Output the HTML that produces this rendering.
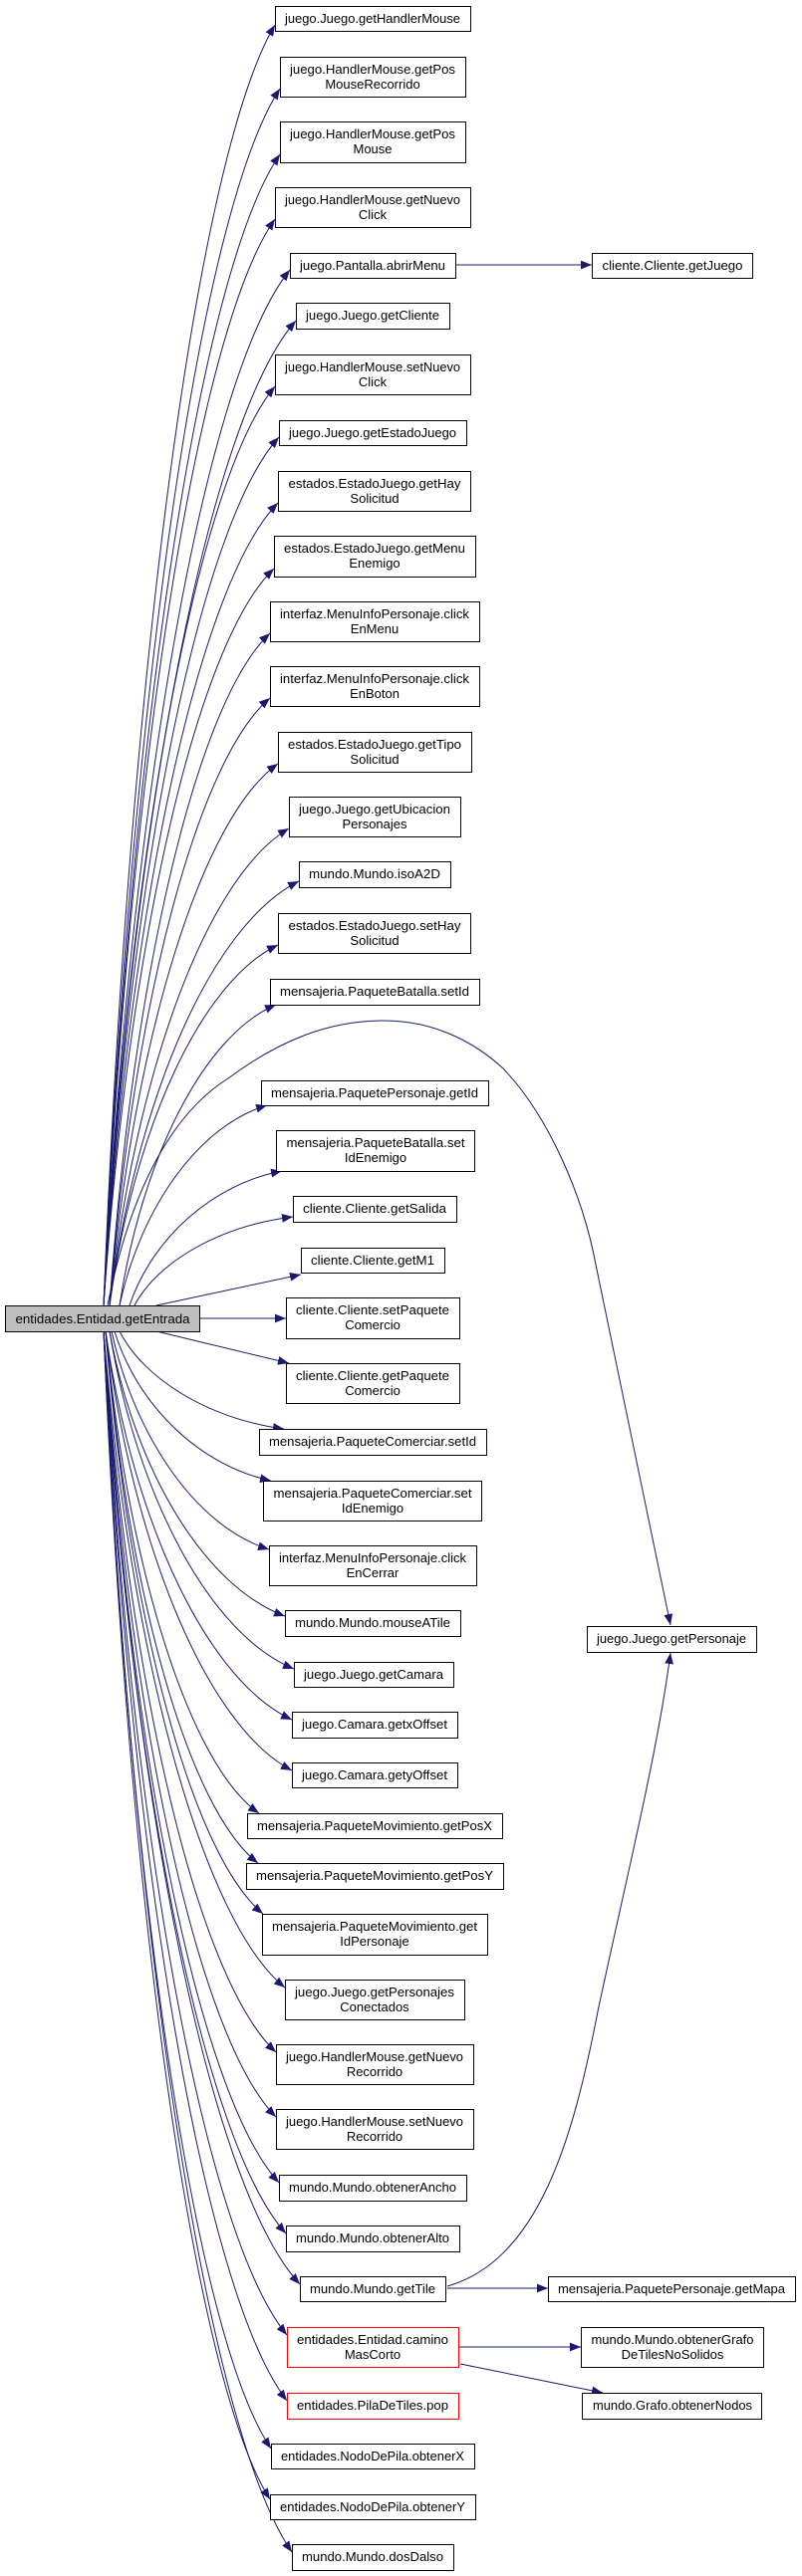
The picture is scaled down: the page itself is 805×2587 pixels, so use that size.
<!DOCTYPE html>
<html><head><meta charset="utf-8"><style>
html,body{margin:0;padding:0;background:#fff;}
svg{display:block;}
text{font-family:"Liberation Sans",Arial,sans-serif;font-size:13px;fill:#000;text-anchor:middle;}
.b{fill:#fff;stroke:#000;stroke-width:1;}
.r{fill:#fff;stroke:#f00;stroke-width:1;}
.e{fill:none;stroke:#191970;stroke-width:1;marker-end:url(#a);}
</style></head><body>
<svg width="805" height="2587" viewBox="0 0 805 2587" xmlns="http://www.w3.org/2000/svg">
<defs><marker id="a" markerUnits="userSpaceOnUse" viewBox="0 0 10 8" refX="10" refY="4" markerWidth="11" markerHeight="9" orient="auto"><path d="M0 0 L10 4 L0 8 z" fill="#191970"/></marker></defs>

<!-- edges up -->
<path class="e" d="M104 1311 C130 668 199 154 276 25"/>
<path class="e" d="M104 1311 C131 700 201 211 281 89"/>
<path class="e" d="M104 1311 C131 733 201 271 281 155"/>
<path class="e" d="M104 1311 C130 765 199 329 276 220"/>
<path class="e" d="M104 1311 C132 791 207 375 291 271"/>
<path class="e" d="M104 1311 C133 816 210 421 297 322"/>
<path class="e" d="M104 1311 C130 849 199 480 276 388"/>
<path class="e" d="M104 1311 C130 875 201 526 280 439"/>
<path class="e" d="M104 1311 C130 908 200 586 279 505"/>
<path class="e" d="M104 1311 C130 941 198 645 275 571"/>
<path class="e" d="M110 1311 C134 973 199 703 271 636"/>
<path class="e" d="M110 1311 C134 1006 199 762 271 701"/>
<path class="e" d="M110 1311 C135 1039 203 821 279 767"/>
<path class="e" d="M110 1311 C137 1071 209 880 290 832"/>
<path class="e" d="M110 1311 C138 1098 214 928 300 885"/>
<path class="e" d="M110 1311 C135 1130 203 985 279 949"/>
<path class="e" d="M120 1311 C143 1160 206 1039 277 1009"/>
<path class="e" d="M120 1311 C142 1210 201 1130 268 1110"/>
<path class="e" d="M130 1311 C153 1243 214 1189 283 1176"/>
<path class="e" d="M135 1311 C159 1266 222 1231 294 1222"/>
<path class="e" d="M157 1311 L302 1280"/>
<path class="e" d="M200 1324 L287 1324"/>
<path class="e" d="M157 1337 L290 1369"/>
<!-- edges down -->
<path class="e" d="M120 1337 C145 1386 211 1425 285 1435"/>
<path class="e" d="M115 1337 C138 1412 201 1472 272 1487"/>
<path class="e" d="M112 1337 C136 1446 199 1534 270 1556"/>
<path class="e" d="M110 1337 C136 1480 207 1594 286 1623"/>
<path class="e" d="M110 1337 C138 1506 212 1642 295 1676"/>
<path class="e" d="M106 1337 C134 1532 209 1688 293 1727"/>
<path class="e" d="M106 1337 C134 1557 209 1734 293 1778"/>
<path class="e" d="M106 1337 C129 1579 191 1773 260 1821"/>
<path class="e" d="M106 1337 C129 1604 190 1818 259 1871"/>
<path class="e" d="M106 1337 C130 1629 193 1863 264 1922"/>
<path class="e" d="M104 1337 C131 1666 204 1930 286 1996"/>
<path class="e" d="M104 1337 C130 1699 199 1988 277 2061"/>
<path class="e" d="M104 1337 C130 1731 199 2047 277 2126"/>
<path class="e" d="M104 1337 C130 1764 201 2106 280 2192"/>
<path class="e" d="M104 1337 C131 1790 205 2152 287 2243"/>
<path class="e" d="M104 1337 C133 1815 212 2198 301 2294"/>
<path class="e" d="M104 1337 C131 1841 205 2244 288 2345"/>
<path class="e" d="M104 1337 C131 1874 205 2303 288 2411"/>
<path class="e" d="M104 1337 C129 1898 196 2347 272 2459"/>
<path class="e" d="M104 1337 C129 1923 196 2393 271 2510"/>
<path class="e" d="M104 1337 C132 1950 208 2440 293 2563"/>
<!-- other edges -->
<path class="e" d="M108 1311 C130 1200 170 1120 229 1083 C280 1045 330 1025 385 1025 C440 1025 480 1050 505 1073 C550 1120 585 1200 598 1270 L673 1632"/>
<path class="e" d="M449 2296 C540 2270 575 2150 600 2020 C630 1880 660 1760 673 1660"/>
<path class="e" d="M457 266 L594 266"/>
<path class="e" d="M449 2298 L550 2298"/>
<path class="e" d="M460 2357 L583 2357"/>
<path class="e" d="M462 2374 L605 2403"/>

<!-- nodes -->
<rect x="5.5" y="1311.5" width="195" height="26" fill="#bfbfbf" stroke="#000"/>
<text x="103" y="1329" textLength="175" lengthAdjust="spacingAndGlyphs">entidades.Entidad.getEntrada</text>

<rect class="b" x="276.5" y="6.5" width="196" height="25"/><text x="374" y="23" textLength="176" lengthAdjust="spacingAndGlyphs">juego.Juego.getHandlerMouse</text>
<rect class="b" x="281.5" y="57.5" width="186" height="40"/><text x="374" y="74" textLength="166" lengthAdjust="spacingAndGlyphs">juego.HandlerMouse.getPos</text><text x="374" y="89">MouseRecorrido</text>
<rect class="b" x="281.5" y="122.5" width="186" height="41"/><text x="374" y="139" textLength="166" lengthAdjust="spacingAndGlyphs">juego.HandlerMouse.getPos</text><text x="374" y="154">Mouse</text>
<rect class="b" x="276.5" y="188.5" width="196" height="40"/><text x="374" y="205" textLength="176" lengthAdjust="spacingAndGlyphs">juego.HandlerMouse.getNuevo</text><text x="374" y="220">Click</text>
<rect class="b" x="291.5" y="254.5" width="166" height="25"/><text x="374" y="271" textLength="146" lengthAdjust="spacingAndGlyphs">juego.Pantalla.abrirMenu</text>
<rect class="b" x="594.5" y="254.5" width="161" height="25"/><text x="675" y="271" textLength="141" lengthAdjust="spacingAndGlyphs">cliente.Cliente.getJuego</text>
<rect class="b" x="297.5" y="304.5" width="154" height="26"/><text x="374" y="321" textLength="134" lengthAdjust="spacingAndGlyphs">juego.Juego.getCliente</text>
<rect class="b" x="276.5" y="356.5" width="196" height="40"/><text x="374" y="373" textLength="176" lengthAdjust="spacingAndGlyphs">juego.HandlerMouse.setNuevo</text><text x="374" y="388">Click</text>
<rect class="b" x="280.5" y="422.5" width="188" height="25"/><text x="374" y="439" textLength="168" lengthAdjust="spacingAndGlyphs">juego.Juego.getEstadoJuego</text>
<rect class="b" x="279.5" y="473.5" width="193" height="40"/><text x="376" y="490" textLength="173" lengthAdjust="spacingAndGlyphs">estados.EstadoJuego.getHay</text><text x="376" y="505">Solicitud</text>
<rect class="b" x="275.5" y="538.5" width="202" height="41"/><text x="376" y="555" textLength="182" lengthAdjust="spacingAndGlyphs">estados.EstadoJuego.getMenu</text><text x="376" y="570">Enemigo</text>
<rect class="b" x="271.5" y="604.5" width="210" height="40"/><text x="376" y="621" textLength="190" lengthAdjust="spacingAndGlyphs">interfaz.MenuInfoPersonaje.click</text><text x="376" y="636">EnMenu</text>
<rect class="b" x="271.5" y="669.5" width="210" height="40"/><text x="376" y="686" textLength="190" lengthAdjust="spacingAndGlyphs">interfaz.MenuInfoPersonaje.click</text><text x="376" y="701">EnBoton</text>
<rect class="b" x="279.5" y="735.5" width="194" height="40"/><text x="376" y="752" textLength="174" lengthAdjust="spacingAndGlyphs">estados.EstadoJuego.getTipo</text><text x="376" y="767">Solicitud</text>
<rect class="b" x="290.5" y="800.5" width="172" height="40"/><text x="376" y="817" textLength="152" lengthAdjust="spacingAndGlyphs">juego.Juego.getUbicacion</text><text x="376" y="832">Personajes</text>
<rect class="b" x="300.5" y="865.5" width="152" height="26"/><text x="376" y="882" textLength="132" lengthAdjust="spacingAndGlyphs">mundo.Mundo.isoA2D</text>
<rect class="b" x="279.5" y="917.5" width="193" height="40"/><text x="376" y="934" textLength="173" lengthAdjust="spacingAndGlyphs">estados.EstadoJuego.setHay</text><text x="376" y="949">Solicitud</text>
<rect class="b" x="271.5" y="983.5" width="210" height="26"/><text x="376" y="1000" textLength="190" lengthAdjust="spacingAndGlyphs">mensajeria.PaqueteBatalla.setId</text>
<rect class="b" x="262.5" y="1085.5" width="228" height="25"/><text x="376" y="1102" textLength="208" lengthAdjust="spacingAndGlyphs">mensajeria.PaquetePersonaje.getId</text>
<rect class="b" x="277.5" y="1135.5" width="199" height="41"/><text x="377" y="1152" textLength="179" lengthAdjust="spacingAndGlyphs">mensajeria.PaqueteBatalla.set</text><text x="377" y="1167">IdEnemigo</text>
<rect class="b" x="294.5" y="1201.5" width="164" height="26"/><text x="376" y="1218" textLength="144" lengthAdjust="spacingAndGlyphs">cliente.Cliente.getSalida</text>
<rect class="b" x="302.5" y="1253.5" width="144" height="25"/><text x="374" y="1270" textLength="124" lengthAdjust="spacingAndGlyphs">cliente.Cliente.getM1</text>
<rect class="b" x="287.5" y="1303.5" width="174" height="41"/><text x="374" y="1320" textLength="154" lengthAdjust="spacingAndGlyphs">cliente.Cliente.setPaquete</text><text x="374" y="1335">Comercio</text>
<rect class="b" x="287.5" y="1369.5" width="174" height="40"/><text x="374" y="1386" textLength="154" lengthAdjust="spacingAndGlyphs">cliente.Cliente.getPaquete</text><text x="374" y="1401">Comercio</text>
<rect class="b" x="260.5" y="1435.5" width="228" height="26"/><text x="374" y="1452" textLength="208" lengthAdjust="spacingAndGlyphs">mensajeria.PaqueteComerciar.setId</text>
<rect class="b" x="264.5" y="1487.5" width="219" height="40"/><text x="374" y="1504" textLength="199" lengthAdjust="spacingAndGlyphs">mensajeria.PaqueteComerciar.set</text><text x="374" y="1519">IdEnemigo</text>
<rect class="b" x="270.5" y="1552.5" width="208" height="40"/><text x="374" y="1569" textLength="188" lengthAdjust="spacingAndGlyphs">interfaz.MenuInfoPersonaje.click</text><text x="374" y="1584">EnCerrar</text>
<rect class="b" x="286.5" y="1617.5" width="176" height="26"/><text x="374" y="1634" textLength="156" lengthAdjust="spacingAndGlyphs">mundo.Mundo.mouseATile</text>
<rect class="b" x="295.5" y="1669.5" width="160" height="25"/><text x="375" y="1686" textLength="140" lengthAdjust="spacingAndGlyphs">juego.Juego.getCamara</text>
<rect class="b" x="589.5" y="1633.5" width="170" height="26"/><text x="674" y="1650" textLength="150" lengthAdjust="spacingAndGlyphs">juego.Juego.getPersonaje</text>
<rect class="b" x="293.5" y="1719.5" width="166" height="26"/><text x="376" y="1736" textLength="146" lengthAdjust="spacingAndGlyphs">juego.Camara.getxOffset</text>
<rect class="b" x="293.5" y="1770.5" width="166" height="25"/><text x="376" y="1787" textLength="146" lengthAdjust="spacingAndGlyphs">juego.Camara.getyOffset</text>
<rect class="b" x="248.5" y="1821.5" width="256" height="25"/><text x="376" y="1838" textLength="236" lengthAdjust="spacingAndGlyphs">mensajeria.PaqueteMovimiento.getPosX</text>
<rect class="b" x="247.5" y="1871.5" width="258" height="26"/><text x="376" y="1888" textLength="238" lengthAdjust="spacingAndGlyphs">mensajeria.PaqueteMovimiento.getPosY</text>
<rect class="b" x="263.5" y="1922.5" width="226" height="41"/><text x="376" y="1939" textLength="206" lengthAdjust="spacingAndGlyphs">mensajeria.PaqueteMovimiento.get</text><text x="376" y="1954">IdPersonaje</text>
<rect class="b" x="286.5" y="1988.5" width="180" height="40"/><text x="376" y="2005" textLength="160" lengthAdjust="spacingAndGlyphs">juego.Juego.getPersonajes</text><text x="376" y="2020">Conectados</text>
<rect class="b" x="277.5" y="2053.5" width="198" height="40"/><text x="376" y="2070" textLength="178" lengthAdjust="spacingAndGlyphs">juego.HandlerMouse.getNuevo</text><text x="376" y="2085">Recorrido</text>
<rect class="b" x="277.5" y="2118.5" width="198" height="40"/><text x="376" y="2135" textLength="178" lengthAdjust="spacingAndGlyphs">juego.HandlerMouse.setNuevo</text><text x="376" y="2150">Recorrido</text>
<rect class="b" x="280.5" y="2184.5" width="188" height="26"/><text x="374" y="2201" textLength="168" lengthAdjust="spacingAndGlyphs">mundo.Mundo.obtenerAncho</text>
<rect class="b" x="287.5" y="2235.5" width="174" height="26"/><text x="374" y="2252" textLength="154" lengthAdjust="spacingAndGlyphs">mundo.Mundo.obtenerAlto</text>
<rect class="b" x="301.5" y="2286.5" width="146" height="25"/><text x="374" y="2303" textLength="126" lengthAdjust="spacingAndGlyphs">mundo.Mundo.getTile</text>
<rect class="b" x="550.5" y="2286.5" width="248" height="25"/><text x="674" y="2303" textLength="228" lengthAdjust="spacingAndGlyphs">mensajeria.PaquetePersonaje.getMapa</text>
<rect class="r" x="288.5" y="2337.5" width="172" height="40"/><text x="374" y="2354" textLength="152" lengthAdjust="spacingAndGlyphs">entidades.Entidad.camino</text><text x="374" y="2369">MasCorto</text>
<rect class="b" x="583.5" y="2337.5" width="183" height="40"/><text x="675" y="2354" textLength="163" lengthAdjust="spacingAndGlyphs">mundo.Mundo.obtenerGrafo</text><text x="675" y="2369">DeTilesNoSolidos</text>
<rect class="b" x="584.5" y="2403.5" width="180" height="26"/><text x="675" y="2420" textLength="160" lengthAdjust="spacingAndGlyphs">mundo.Grafo.obtenerNodos</text>
<rect class="r" x="288.5" y="2403.5" width="172" height="26"/><text x="374" y="2420" textLength="152" lengthAdjust="spacingAndGlyphs">entidades.PilaDeTiles.pop</text>
<rect class="b" x="272.5" y="2454.5" width="204" height="25"/><text x="374" y="2471" textLength="184" lengthAdjust="spacingAndGlyphs">entidades.NodoDePila.obtenerX</text>
<rect class="b" x="271.5" y="2505.5" width="206" height="25"/><text x="374" y="2522" textLength="186" lengthAdjust="spacingAndGlyphs">entidades.NodoDePila.obtenerY</text>
<rect class="b" x="293.5" y="2555.5" width="162" height="26"/><text x="374" y="2572" textLength="142" lengthAdjust="spacingAndGlyphs">mundo.Mundo.dosDalso</text>
</svg>
</body></html>
